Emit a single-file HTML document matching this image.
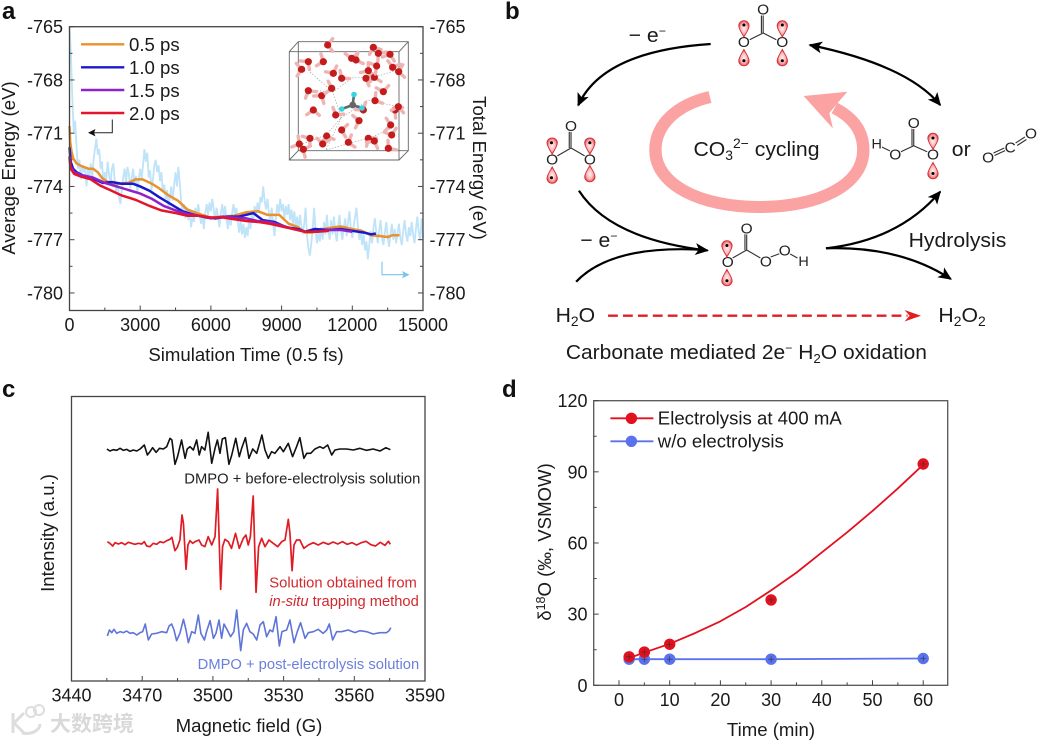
<!DOCTYPE html>
<html lang="en">
<head>
<meta charset="utf-8">
<title>Carbonate mediated water oxidation figure</title>
<style>
html,body{margin:0;padding:0;background:#fff;}
svg{display:block;}
text{font-family:"Liberation Sans","Noto Sans CJK SC",sans-serif;fill:#1a1a1a;}
.panel{font-size:24px;font-weight:bold;fill:#111;}
.lab{font-size:18.6px;}
.mol{font-size:15px;text-anchor:middle;fill:#222;stroke:#fff;stroke-width:2px;paint-order:stroke;}
.sch{font-size:20.6px;}
.bond{stroke:#333;stroke-width:1.1;fill:none;}
.curve{stroke:#000;stroke-width:2.2;fill:none;}
</style>
</head>
<body>
<svg id="figure" width="1038" height="740" viewBox="0 0 1038 740" xmlns="http://www.w3.org/2000/svg">
<defs>
<radialGradient id="orb" cx="50%" cy="48%" r="58%">
<stop offset="0" stop-color="#fff0f0"/><stop offset="0.55" stop-color="#f9b5b5"/><stop offset="1" stop-color="#d8242c"/>
</radialGradient>
<path id="orbital" d="M0,7.5 C-2,3.5 -5,-0.5 -5,-3.8 A5,5 0 1 1 5,-3.8 C5,-0.5 2,3.5 0,7.5Z" fill="url(#orb)" stroke="#d92a32" stroke-width="0.9"/>
<marker id="ah" viewBox="0 0 10 10" refX="9" refY="5" markerWidth="6" markerHeight="6" orient="auto-start-reverse"><path d="M0,0.5 L10,5 L0,9.5 L2.5,5Z" fill="#000"/></marker>
</defs>

<!-- PANEL A -->
<text class="panel" x="2" y="19">a</text>
<g id="panelA"></g>
<text class="lab" x="246" y="361" text-anchor="middle">Simulation Time (0.5 fs)</text>
<text class="lab" transform="translate(15,168) rotate(-90)" text-anchor="middle">Average Energy (eV)</text>
<text class="lab" transform="translate(473,168) rotate(90)" text-anchor="middle">Total Energy (eV)</text>
<g>
<line x1="81" x2="124.3" y1="44.3" y2="44.3" stroke="#e8912d" stroke-width="2.4"/>
<text class="lab" x="129" y="51">0.5 ps</text>
<line x1="81" x2="124.3" y1="67.3" y2="67.3" stroke="#1a1acb" stroke-width="2.4"/>
<text class="lab" x="129" y="74">1.0 ps</text>
<line x1="81" x2="124.3" y1="90" y2="90" stroke="#8d23c9" stroke-width="2.4"/>
<text class="lab" x="129" y="97">1.5 ps</text>
<line x1="81" x2="124.3" y1="113" y2="113" stroke="#e3142b" stroke-width="2.4"/>
<text class="lab" x="129" y="120">2.0 ps</text>
</g>
<g>
<path d="M112.3,119.5 V132.7 H93" fill="none" stroke="#222" stroke-width="1"/>
<path d="M88,132.7 L95.5,129 L94,132.7 L95.5,136.4Z" fill="#111"/>
</g>
<g>
<path d="M382,261.7 V274.7 H404" fill="none" stroke="#7cc3ea" stroke-width="1.1"/>
<path d="M409.5,274.7 L402,271 L403.5,274.7 L402,278.4Z" fill="#7cc3ea"/>
</g>
<g id="inset"></g>

<!-- PANEL B -->
<text class="panel" x="505" y="19">b</text>
<g transform="translate(500,0) scale(1.0292,1) translate(-500,0)">
<path d="M704,97 C671,105 651,125 651,150 C651,185 695,207 752,207 C810,207 853,185 853,150 C853,130 842,117 825,108" fill="none" stroke="#fba3a3" stroke-width="12"/>
<polygon points="795,96 837.5,91.7 828,103 820,113 823.5,128.5" fill="#fba3a3"/>
<text class="sch" x="688" y="156">CO<tspan dy="4" font-size="13.5">3</tspan><tspan dy="-12" font-size="13.5">2−</tspan><tspan dy="8"> cycling</tspan></text>

<path class="curve" d="M704.7,44 Q600,51 576,105.3" marker-end="url(#ah)"/>
<path class="curve" d="M801,45 Q895.5,65 927.7,105" marker-start="url(#ah)" marker-end="url(#ah)"/>
<path class="curve" d="M576.7,190.7 Q607,239 701.7,250.5" marker-end="url(#ah)"/>
<path class="curve" d="M574,281.7 Q609,244 700,250"/>
<path class="curve" d="M816.7,248.3 Q888,240 927.7,191.7" marker-end="url(#ah)"/>
<path class="curve" d="M816.7,248.3 Q889,246 938,279" marker-end="url(#ah)"/>

<text class="sch" x="625" y="42">− e<tspan dy="-7" font-size="12">−</tspan></text>
<text class="sch" x="578" y="247">− e<tspan dy="-7" font-size="12">−</tspan></text>
<text class="sch" x="897" y="247">Hydrolysis</text>
<text class="sch" x="939" y="156">or</text>
<text class="sch" x="554" y="322">H<tspan dy="4" font-size="13.5">2</tspan><tspan dy="-4">O</tspan></text>
<text class="sch" x="926" y="322">H<tspan dy="4" font-size="13.5">2</tspan><tspan dy="-4">O</tspan><tspan dy="4" font-size="13.5">2</tspan></text>
<line x1="605" x2="896" y1="315.7" y2="315.7" stroke="#e02020" stroke-width="2.4" stroke-dasharray="9.5 5"/>
<polygon points="909,315.7 893,310 898,315.7 893,321.5" fill="#e02020"/>
<text class="sch" x="564" y="359" style="font-size:20.4px">Carbonate mediated 2e<tspan dy="-7" font-size="12">−</tspan><tspan dy="7"> H</tspan><tspan dy="4" font-size="13">2</tspan><tspan dy="-4">O oxidation</tspan></text>

<g>
<path class="bond" d="M755.7,15 V33 M754,15.5 V33 M755.7,33 L742,40 M755.7,33 L769,40"/>
<text class="mol" x="755.7" y="14.5">O</text><text class="mol" x="737" y="47">O</text><text class="mol" x="774.3" y="47">O</text>
<use href="#orbital" transform="translate(737,29.5)"/><use href="#orbital" transform="translate(737,57) rotate(180)"/>
<use href="#orbital" transform="translate(774.3,29.5)"/><use href="#orbital" transform="translate(774.3,57) rotate(180)"/>
<circle cx="737" cy="25" r="1.5" fill="#000"/><circle cx="737" cy="60.7" r="1.5" fill="#000"/><circle cx="774.3" cy="25" r="1.5" fill="#000"/><circle cx="774.3" cy="60.7" r="1.5" fill="#000"/>
</g>
<g>
<path class="bond" d="M569,131 V148 M567.3,131 V148 M569,148 L555.5,156 M569,148 L582.5,156"/>
<text class="mol" x="569" y="131">O</text><text class="mol" x="550.7" y="164.5">O</text><text class="mol" x="587.3" y="164.5">O</text>
<use href="#orbital" transform="translate(550.7,146.7)"/><use href="#orbital" transform="translate(550.7,174.5) rotate(180)"/>
<use href="#orbital" transform="translate(587.3,146.7)"/><use href="#orbital" transform="translate(587.3,173) rotate(180)"/>
<circle cx="550" cy="142.7" r="1.5" fill="#000"/><circle cx="550" cy="177.7" r="1.5" fill="#000"/><circle cx="587.3" cy="142.7" r="1.5" fill="#000"/>
</g>
<g>
<path class="bond" d="M902,128 V145.7 M900.3,128 V145.7 M902,145.7 L889,152 M902,145.7 L915.5,152 M871,147 L879,151"/>
<text class="mol" x="902" y="128">O</text><text class="mol" x="884" y="159.5">O</text><text class="mol" x="920.7" y="159.5">O</text><text class="mol" x="866" y="148.5" style="font-size:14px">H</text>
<use href="#orbital" transform="translate(920.7,142)"/><use href="#orbital" transform="translate(920.7,170) rotate(180)"/>
<circle cx="920.7" cy="138" r="1.5" fill="#000"/><circle cx="920.7" cy="173.5" r="1.5" fill="#000"/>
</g>
<g>
<path class="bond" d="M979.5,153 L990,148 M980.5,155.5 L991,150.5 M1001,143 L1010,137 M1002.5,145.5 L1011.5,139.5"/>
<text class="mol" x="974.3" y="162.5">O</text><text class="mol" x="995.7" y="152.5">C</text><text class="mol" x="1016" y="138.5">O</text>
</g>
<g>
<path class="bond" d="M739.7,234 V250 M738,234 V250 M739.7,250 L726,258 M739.7,250 L753,258 M763,257 L772,253.5 M782,254 L789,258"/>
<text class="mol" x="739.7" y="233.5">O</text><text class="mol" x="721.3" y="267">O</text><text class="mol" x="758.3" y="266.5">O</text><text class="mol" x="776.7" y="255.5">O</text><text class="mol" x="795" y="266" style="font-size:14px">H</text>
<use href="#orbital" transform="translate(720.5,249.5)"/><use href="#orbital" transform="translate(720.5,277) rotate(180)"/>
<circle cx="720.5" cy="245.5" r="1.5" fill="#000"/><circle cx="720.5" cy="280.7" r="1.5" fill="#000"/>
</g>
</g>

<!-- PANEL C -->
<text class="panel" x="2" y="397">c</text>
<g id="panelC"></g>
<text class="lab" x="249" y="732" text-anchor="middle">Magnetic field (G)</text>
<text class="lab" transform="translate(54,533) rotate(-90)" text-anchor="middle">Intensity (a.u.)</text>
<text x="184.3" y="483.5" font-size="14.4" textLength="236" lengthAdjust="spacingAndGlyphs" style="fill:#222">DMPO + before-electrolysis solution</text>
<text x="269.3" y="587.5" font-size="14.4" textLength="147.5" lengthAdjust="spacingAndGlyphs" style="fill:#d2282e">Solution obtained from</text>
<text x="269.3" y="606" font-size="14.4" textLength="149.5" lengthAdjust="spacingAndGlyphs" style="fill:#d2282e"><tspan font-style="italic">in-situ</tspan> trapping method</text>
<text x="197.7" y="669" font-size="14.4" textLength="221.5" lengthAdjust="spacingAndGlyphs" style="fill:#6a7fdc">DMPO + post-electrolysis solution</text>

<g opacity="0.95">
<path d="M13,713 V733 M14,723 L24,713 M14,723 L24,733 M22,733 C32,735 40,730 40,724" fill="none" stroke="#dcdcdc" stroke-width="3"/>
<circle cx="31" cy="712" r="5" fill="none" stroke="#dcdcdc" stroke-width="2"/>
<circle cx="39" cy="710" r="5" fill="none" stroke="#dcdcdc" stroke-width="2"/>
<text x="50" y="731" style="font-size:21px;fill:#d8d8d8;font-family:'Liberation Sans','Noto Sans CJK SC',sans-serif;font-weight:bold">大数跨境</text>
</g>

<!-- PANEL D -->
<text class="panel" x="502" y="397">d</text>
<g id="panelD"></g>
<text class="lab" x="771" y="736" text-anchor="middle">Time (min)</text>
<text class="lab" transform="translate(551,542) rotate(-90)" text-anchor="middle">δ<tspan dy="-6" font-size="12.5">18</tspan><tspan dy="6">O (‰, VSMOW)</tspan></text>
<g>
<line x1="610.4" x2="653.4" y1="418.3" y2="418.3" stroke="#e3101f" stroke-width="1.8"/>
<circle cx="631.4" cy="418.3" r="5.7" fill="#e3101f"/>
<text class="lab" x="657.8" y="424.5">Electrolysis at 400 mA</text>
<line x1="610.4" x2="653.4" y1="441.3" y2="441.3" stroke="#5b72ee" stroke-width="1.8"/>
<circle cx="631.4" cy="441.3" r="5.7" fill="#5b72ee"/>
<text class="lab" x="657.8" y="447.5">w/o electrolysis</text>
</g>
</svg>

<script>
// ---------- Panel a data ----------
const aXTicks = [0,3000,6000,9000,12000,15000];
const aXMinor = [1500,4500,7500,10500,13500];
const aYTicks = [-765,-768,-771,-774,-777,-780];
const aYMinor = [-766.5,-769.5,-772.5,-775.5,-778.5];
const totalEnergyStep = 60;
const totalEnergy = [
-765,-766.5,-769,-771,-770.3,-771.8,-773,-772.5,-773.6,-772.8,-773.2,-772.9,-774,-773,-773.4,-772.7,-773.6,-772.5,-771.9,-771.3,
-772.2,-771.9,-773,-772.6,-773.9,-773.2,-773.6,-772.6,-773.4,-773.8,-773,-772.7,-773.7,-774.3,-773.8,-774.6,-775,-774.2,-773.5,-773,
-773.8,-772.9,-773.3,-774.1,-773.5,-773,-773.9,-773.4,-774.4,-773.6,-773,-773.6,-772.8,-771.9,-772.6,-772.1,-773.5,-773.1,-774.2,-773.6,
-772.8,-772.5,-773.2,-772.8,-773.7,-773.2,-774.3,-773.9,-774.7,-774.2,-775.2,-774.6,-774,-774.8,-773.9,-773.2,-774,-772.9,-773.8,-774.9,
-775.5,-775,-775.8,-775.2,-775.9,-775.4,-776.3,-775.7,-776,-775.2,-775.7,-775,-775.5,-776.1,-775.6,-776.4,-775.5,-775,-775.6,-774.9,
-775.4,-774.7,-775.3,-775.9,-775.2,-775.7,-776.3,-775.5,-775,-775.7,-775.1,-775.8,-776.4,-775.6,-776.2,-775.5,-775,-775.6,-775.2,-776,
-776.6,-775.9,-776.7,-776.1,-776.9,-776.3,-776.8,-775.8,-776.4,-775.4,-775.9,-775.1,-775.6,-774.9,-775.5,-774.6,-774.9,-774,-774.8,-775.3,
-774.7,-775.5,-776,-775.2,-776.1,-776.8,-775.7,-775,-775.5,-774.7,-775.4,-775,-775.8,-775.1,-775.6,-775,-775.9,-775.3,-776.1,-775.4,
-776.3,-775.7,-776.5,-775.6,-776.2,-776.7,-776.1,-775.2,-776.8,-777.5,-777.9,-777.2,-776.4,-775.2,-776.5,-777.2,-776.6,-777.1,-776.3,-777,
-776,-776.7,-775.6,-776.5,-777,-775.9,-776.7,-775.7,-776.6,-777.1,-776.2,-775.6,-776.5,-777,-776.3,-775.8,-776.8,-776,-775.4,-776.4,
-776.9,-776.2,-775.7,-775.2,-776.3,-777,-776.4,-777.3,-776.7,-777.6,-777.1,-778.1,-777.3,-776.5,-777.2,-776.3,-775.8,-776.6,-777.2,-776.5,
-775.9,-776.9,-777.3,-776.6,-776,-776.8,-777.4,-776.7,-776.1,-777,-776.4,-777.2,-776.6,-776.1,-776.9,-777.3,-776.5,-775.9,-776.7,-777.1,
-776.3,-776.8,-776,-776.7,-777.2,-776.4,-775.7,-776.6,-777,-775.8,-776.9
];
const times05 = [0,30,80,150,300,500,800,1000,1200,1400,1700,2000,2500,2800,3100,3500,3800,4200,4600,5000,5500,6000,6500,7000,7500,8000,8400,8900,9300,9700,10000,10300,10600,11000,11500,12000,12400,12800,13200,13500,13700,14000];
const energy05 = [-770.6,-771.5,-772,-772.4,-772.7,-772.85,-773,-773,-773.2,-773.55,-773.8,-773.85,-773.8,-773.6,-773.6,-773.85,-774.1,-774.5,-774.8,-775.3,-775.55,-775.75,-775.7,-775.65,-775.45,-775.4,-775.6,-775.6,-776.1,-776.3,-776.6,-776.6,-776.45,-776.35,-776.25,-776.4,-776.5,-776.75,-776.8,-776.85,-776.75,-776.75];
const times10 = [0,50,150,300,600,1000,1400,1800,2200,2700,3000,3400,3800,4300,4800,5300,5800,6200,6700,7200,7800,8200,8700,9200,9700,10000,10400,11000,11500,12000,12500,12800,13000];
const energy10 = [-771.8,-772.6,-773,-773.2,-773.4,-773.55,-773.8,-773.75,-773.85,-773.85,-774,-774.25,-774.6,-775,-775.4,-775.6,-775.75,-775.8,-775.7,-775.7,-775.5,-775.9,-776,-776.3,-776.4,-776.55,-776.4,-776.45,-776.4,-776.5,-776.6,-776.7,-776.65];
const times15 = [0,50,200,500,1000,1500,2000,2500,3000,3500,4000,4500,5000,5500,6000,6500,7000,7500,8000,8500,9000,9500,10000,10500,11000,11500,12000];
const energy15 = [-772.3,-772.9,-773.2,-773.35,-773.5,-773.8,-774,-774.2,-774.4,-774.7,-775.1,-775.35,-775.55,-775.65,-775.8,-775.7,-775.75,-775.8,-775.95,-776,-776.2,-776.4,-776.55,-776.55,-776.45,-776.45,-776.55];
const times20 = [0,50,200,500,900,1300,1800,2200,2800,3400,3900,4500,5000,5500,6000,6500,7000,7500,8000,8500,9000,9500,10000,10500,11000];
const energy20 = [-772.4,-773,-773.3,-773.45,-773.6,-773.95,-774.25,-774.5,-774.75,-775.1,-775.35,-775.5,-775.65,-775.65,-775.75,-775.75,-775.85,-775.95,-776,-776.1,-776.25,-776.4,-776.55,-776.55,-776.5];

// ---------- Panel c data ----------
const cXTicks = [3440,3470,3500,3530,3560,3590];
const cXMinor = [3455,3485,3515,3545,3575];
const blackOffset = 693;
const redOffset = 413;
const blueOffset = 145;
const blackFields = [3455,3456.3,3457.8,3459.2,3460.6,3462,3463.4,3464.8,3466.2,3467.7,
3469.1,3470.9,3472.2,3473.3,3474.4,3475.9,3477.3,3479,3480.4,3481.8,
3482.6,3483.9,3485,3486.7,3488.2,3489.1,3490.3,3491.7,3493.1,3494.2,
3495.2,3496.6,3498,3499.5,3500.9,3501.9,3503,3504,3505.3,3506.8,
3508,3509.7,3511.2,3512.2,3513.8,3515.3,3516.9,3518.6,3520.8,3522.1,
3523.5,3524.9,3526.3,3528.5,3529.9,3532,3533.8,3535.5,3536.9,3538.6,
3539.8,3541.5,3543.3,3545.4,3546.8,3548.7,3550.4,3551.8,3553.9,3556.7,
3559.6,3562.4,3565.2,3568,3570.9,3573.4,3575.3];
const blackValues = [3,-3,1,-1,5,-1,2,-4,0,-3,
3,15,-15,-5,7,-7,5,3,10,35,
30,-43,-20,30,-25,3,10,0,30,-15,
10,0,53,-40,5,30,-10,33,37,-43,
-15,35,-20,5,37,-25,3,-10,45,0,
-25,-5,-10,10,-5,20,-20,10,37,-25,
-10,-10,3,10,5,15,-15,0,3,3,
0,5,-1,3,-3,7,1];
const redFields = [3455.2,3456.3,3457.5,3458.5,3459.9,3461.3,3462.7,3464.1,3465.5,3466.9,
3468.4,3469.8,3470.9,3471.9,3473.3,3474.7,3476.1,3477.6,3479,3480.4,
3481.8,3482.6,3483.9,3484.9,3486,3486.9,3487.5,3488.6,3489.4,3490.3,
3491.4,3492.4,3494.1,3495.2,3496.6,3498,3499.5,3500.9,3502,3503.3,
3504.1,3505.1,3506.5,3507.9,3509.6,3511.2,3512.9,3514,3515,3515.9,
3517.1,3518.3,3519.4,3520.7,3522.1,3523.8,3525.6,3527.5,3529.2,3530.6,
3532,3532.7,3533.6,3534.4,3535.5,3536.9,3538.6,3540.5,3542.6,3544.7,
3546.8,3549,3551,3553,3555,3557,3559,3561,3563,3565,
3567,3569,3571,3573,3574.5,3575.3];
const redValues = [5,0,-8,2,-2,2,-4,3,0,-3,
0,-2,5,-8,-10,0,-3,5,2,8,
12,18,-22,-12,10,85,60,-78,-5,8,
0,5,10,-5,-10,20,-5,20,163,-138,
-10,12,5,-15,30,-15,15,25,-5,20,
142,-147,-10,15,-10,10,0,-10,5,10,
72,30,-82,-5,10,10,-15,-5,2,-5,
3,-3,4,-2,5,-3,2,-5,2,6,
-4,-8,3,-6,6,-3];
const blueFields = [3455.2,3456.1,3457.1,3458,3459.2,3460.6,3462,3463.4,3464.8,3466.2,
3467.7,3469.1,3470.2,3471.3,3472.6,3474,3476.1,3478.3,3480.4,3481.4,
3482.5,3483.5,3484.6,3486,3487.5,3488.6,3489.6,3491,3492.4,3493.8,
3494.9,3496.4,3497.3,3498.8,3500.2,3501.3,3502.6,3503.7,3504.7,3506.1,
3507.5,3508.9,3510.1,3511.8,3512.9,3514.3,3515.7,3517.1,3518.6,3520,
3521.4,3522.8,3524.2,3525.4,3526.8,3528.2,3529.3,3531.3,3532.7,3534.4,
3535.8,3537.2,3539.1,3540.5,3542.6,3544.7,3546.8,3548.3,3549.4,3550.8,
3552.5,3554.6,3557.4,3560.3,3562.4,3565.2,3568,3570.9,3573.7,3574.8,3575.5];
const blueValues = [-10,8,0,10,-2,3,0,5,-2,0,
-7,0,3,26,-22,-4,-2,3,0,20,
26,8,-24,-2,40,8,-30,3,-2,53,
-2,-22,3,36,-17,-2,38,-17,26,8,
-12,3,68,-54,8,28,3,-4,-22,23,
33,-12,8,3,48,-40,3,8,38,-30,
3,30,-17,0,3,10,-2,8,26,-22,
3,3,8,0,6,3,-4,0,0,6,15];

// ---------- Panel d data ----------
const dXTicks = [0,10,20,30,40,50,60];
const dXMinor = [5,15,25,35,45,55];
const dYTicks = [0,30,60,90,120];
const dYMinor = [15,45,75,105];
const sampleTimes = [2,5,10,30,60];
const electrolysisValues = [12,14,17.3,36,93.3];
const controlValues = [11,11,11,11,11.3];
const fitTimes = [2,5,10,15,20,25,30,35,40,45,50,55,60];
const fitValues = [11.5,13.8,17.5,22,27,33,40,47.5,56,64.5,73.5,83,93];

// ---------- Axis functions ----------
const xA = t => 69.5 + t / 15000 * 353.5;
const yA = e => 26.7 + (-765 - e) * 17.75;
const xC = f => 71.5 + (f - 3440) / 150 * 353.5;
const yC = v => 681 - v / 3;
const xD = t => 619 + t * 5.07;
const yD = v => 685.3 - v * 2.372;

const NS = 'http://www.w3.org/2000/svg';
function add(parent, tag, attrs, txt) {
  const el = document.createElementNS(NS, tag);
  for (const k in attrs) el.setAttribute(k, attrs[k]);
  if (txt !== undefined) el.textContent = txt;
  parent.appendChild(el);
  return el;
}
function pathD(xs, ys, fx, fy) {
  return xs.map((x, i) => (i ? 'L' : 'M') + fx(x).toFixed(2) + ',' + fy(ys[i]).toFixed(2)).join(' ');
}
function drawBox(parent, x0, y0, x1, y1, color) {
  const box = add(parent, 'rect', {x: x0, y: y0, width: x1 - x0, height: y1 - y0, fill: 'none', stroke: color, 'stroke-width': 1.3});
  
  
}
function xAxis(parent, majors, minors, fx, yBase, yLabel, color) {
  majors.forEach(v => {
    const t = add(parent, 'line', {x1: fx(v), x2: fx(v), y1: yBase, y2: yBase - 5, stroke: color, 'stroke-width': 1});
    
    
    const l = add(parent, 'text', {x: fx(v), y: yLabel, 'text-anchor': 'middle', 'font-size': 18}, String(v));
    
    
  });
  minors.forEach(v => {
    const t = add(parent, 'line', {x1: fx(v), x2: fx(v), y1: yBase, y2: yBase - 3, stroke: color, 'stroke-width': 1});
    
    
  });
}
function yAxis(parent, majors, minors, fy, xBase, dir, labelX, anchor, color) {
  majors.forEach(v => {
    const t = add(parent, 'line', {x1: xBase, x2: xBase + dir * 5, y1: fy(v), y2: fy(v), stroke: color, 'stroke-width': 1});
    
    
    const l = add(parent, 'text', {x: labelX, y: fy(v) + 6.5, 'text-anchor': anchor, 'font-size': 18}, String(v));
    
    
  });
  minors.forEach(v => {
    const t = add(parent, 'line', {x1: xBase, x2: xBase + dir * 3, y1: fy(v), y2: fy(v), stroke: color, 'stroke-width': 1});
    
    
  });
}

// ---------- Panel a ----------
const gA = document.getElementById('panelA');
const totalTimes = totalEnergy.map((_, i) => i * totalEnergyStep);
const totalLine = add(gA, 'path', {d: pathD(totalTimes, totalEnergy, xA, yA), fill: 'none', stroke: '#bfe3f8', 'stroke-width': 1.8});


const line05 = add(gA, 'path', {d: pathD(times05, energy05, xA, yA), fill: 'none', stroke: '#e8912d', 'stroke-width': 2.5});


const line10 = add(gA, 'path', {d: pathD(times10, energy10, xA, yA), fill: 'none', stroke: '#1a1acb', 'stroke-width': 2.5});


const line15 = add(gA, 'path', {d: pathD(times15, energy15, xA, yA), fill: 'none', stroke: '#8d23c9', 'stroke-width': 2.5});


const line20 = add(gA, 'path', {d: pathD(times20, energy20, xA, yA), fill: 'none', stroke: '#e3142b', 'stroke-width': 2.5});


drawBox(gA, 69.5, 26.7, 423, 310.5, '#444');
xAxis(gA, aXTicks, aXMinor, xA, 310.5, 331, '#444');
yAxis(gA, aYTicks, aYMinor, yA, 69.5, 1, 63, 'end', '#444');
yAxis(gA, aYTicks, aYMinor, yA, 423, -1, 429.5, 'start', '#444');

// ---------- Inset illustration ----------
(function () {
  const inset = document.getElementById('inset');
  const frame = add(inset, 'path', {d: 'M298.3,41.7 H408.3 V150.7 H298.3Z M289.3,51.7 H399 V160 H289.3Z M289.3,51.7 L298.3,41.7 M399,51.7 L408.3,41.7 M399,160 L408.3,150.7 M289.3,160 L298.3,150.7', fill: 'none', stroke: '#666', 'stroke-width': 0.9});
  
  
  const bonds = add(inset, 'path', {d: 'M310,72 L333,92 L352,78 L375,77 M308,90 L333,92 L341,118 M341,118 L326,150 M341,118 L368,100 L395,106 M326,150 L372,137 L392,128 M300,145 L326,135 L341,118 M375,77 L397,70', fill: 'none', stroke: '#999', 'stroke-width': 0.6, 'stroke-dasharray': '1.5 1.5'});
  
  
  const sites = [[143,45],[280,52],[85,95],[130,95],[215,85],[228,90],[295,70],[330,73],[65,118],[160,130],[185,145],[258,145],[283,142],[290,108],[265,122],[338,112],[356,125],[85,182],[125,197],[155,175],[310,185],[285,212],[345,240],[355,230],[237,272],[250,240],[167,255],[185,300],[140,318],[90,325],[58,342],[128,342],[205,337],[265,325],[283,333],[332,285],[335,315],[325,355],[70,358],[100,240]];
  sites.forEach((s, i) => {
    const cx = 280 + s[0] / 3, cy = 30 + s[1] / 3, a = i * 67 * Math.PI / 180;
    [a - 0.9, a + 0.9].forEach(b => {
      const hx = cx + 8 * Math.cos(b), hy = cy + 8 * Math.sin(b);
      const h = add(inset, 'line', {x1: cx, y1: cy, x2: hx, y2: hy, stroke: '#eeb4b4', 'stroke-width': 3.4, 'stroke-linecap': 'round'});
      
      
    });
    const o = add(inset, 'circle', {cx: cx, cy: cy, r: 3.6, fill: '#c41c1c'});
    
    
  });
  const cBonds = add(inset, 'path', {d: 'M352.7,105 L354,94.5 M352.7,105 L341.7,109 M352.7,105 L362,108', stroke: '#5a6a70', 'stroke-width': 2.6, fill: 'none'});
  
  
  const carbon = add(inset, 'circle', {cx: 352.7, cy: 105, r: 3.4, fill: '#666'});
  
  
  [[354,94.5],[341.7,109],[362,108]].forEach(p => {
    const c = add(inset, 'circle', {cx: p[0], cy: p[1], r: 2.8, fill: '#35d6e0'});
    
    
  });
})();

// ---------- Panel c ----------
const gC = document.getElementById('panelC');
drawBox(gC, 71.5, 396.5, 425, 681, '#444');
xAxis(gC, cXTicks, cXMinor, xC, 681, 701.7, '#444');
const blackLine = add(gC, 'path', {d: pathD(blackFields, blackValues.map(v => v + blackOffset), xC, yC), fill: 'none', stroke: '#111', 'stroke-width': 1.6, 'stroke-linejoin': 'round'});


const redLine = add(gC, 'path', {d: pathD(redFields, redValues.map(v => v + redOffset), xC, yC), fill: 'none', stroke: '#df1c24', 'stroke-width': 1.7, 'stroke-linejoin': 'round'});


const blueLine = add(gC, 'path', {d: pathD(blueFields, blueValues.map(v => v + blueOffset), xC, yC), fill: 'none', stroke: '#5f74d8', 'stroke-width': 1.6, 'stroke-linejoin': 'round'});



// ---------- Panel d ----------
const gD = document.getElementById('panelD');
const controlLine = add(gD, 'path', {d: pathD(sampleTimes, controlValues, xD, yD), fill: 'none', stroke: '#5b72ee', 'stroke-width': 1.8});


const fitLine = add(gD, 'path', {d: pathD(fitTimes, fitValues, xD, yD), fill: 'none', stroke: '#e3101f', 'stroke-width': 1.8, 'stroke-linejoin': 'round'});


function markers(values, color) {
  values.forEach((v, i) => {
    const cx = xD(sampleTimes[i]), cy = yD(v);
    const c = add(gD, 'circle', {cx: cx, cy: cy, r: 5.7, fill: color});
    
    
    const p = add(gD, 'path', {d: `M${cx - 3},${cy} H${cx + 3} M${cx},${cy - 3} V${cy + 3}`, stroke: '#333', 'stroke-width': 0.6, fill: 'none'});
    
    
  });
}
markers(controlValues, '#5b72ee');
markers(electrolysisValues, '#e3101f');
drawBox(gD, 593.7, 400.7, 947.7, 685.3, '#555');
xAxis(gD, dXTicks, dXMinor, xD, 685.3, 706, '#444');
yAxis(gD, dYTicks, dYMinor, yD, 593.7, 1, 587.5, 'end', '#444');
</script>
</body>
</html>
